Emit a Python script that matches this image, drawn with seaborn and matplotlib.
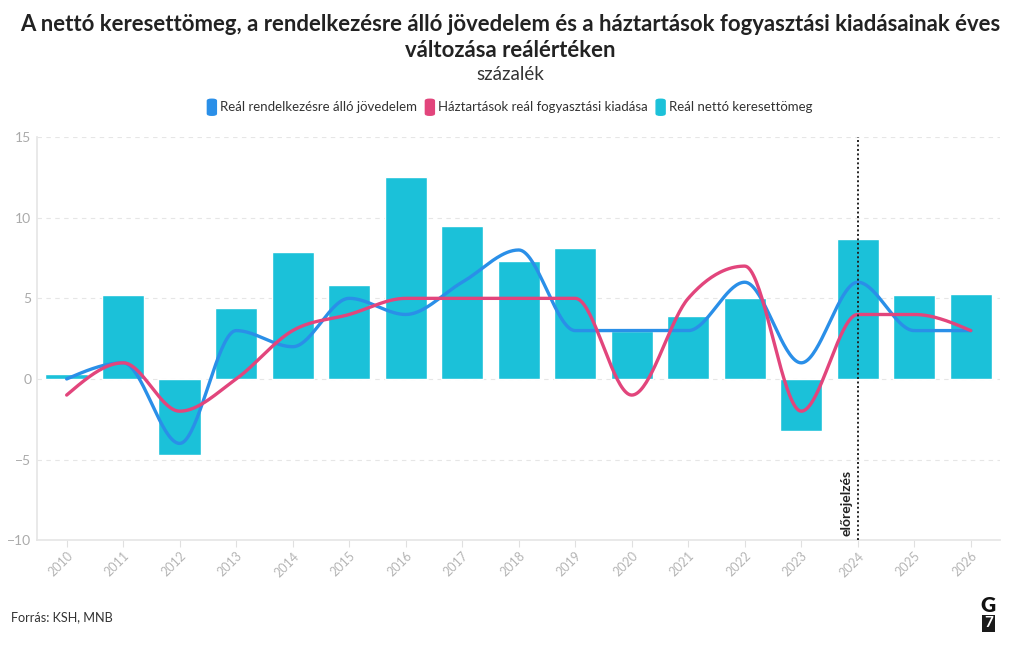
import numpy as np
import matplotlib
matplotlib.use("Agg")
import matplotlib.pyplot as plt
from matplotlib import font_manager
from matplotlib.patches import FancyBboxPatch
import seaborn as sns

# data (percent, yearly change)
years = [str(y) for y in range(2010, 2027)]
netto_kereset = [0.3, 5.2, -4.7, 4.4, 7.9, 5.8, 12.5, 9.5, 7.3, 8.1, 3.0, 3.9, 5.0, -3.2, 8.7, 5.2, 5.3]
jovedelem = [0, 1, -4, 3, 2, 5, 4, 6, 8, 3, 3, 3, 6, 1, 6, 3, 3]
fogyasztas = [-1, 1, -2, 0, 3, 4, 5, 5, 5, 5, -1, 5, 7, -2, 4, 4, 3]
forecast_year = "2024"

c_bar = "#1bc1d9"
c_blue = "#2a8fe8"
c_pink = "#e2457c"


def monotone_curve(y, steps=40):
    # smooth drawing through the points, like d3 curveMonotoneX
    y = np.asarray(y, dtype=float)
    x = np.arange(len(y), dtype=float)
    s = np.diff(y)
    t = np.zeros(len(y))
    for i in range(1, len(y) - 1):
        p = (s[i - 1] + s[i]) / 2
        t[i] = (np.sign(s[i - 1]) + np.sign(s[i])) * min(abs(s[i - 1]), abs(s[i]), 0.5 * abs(p))
    t[0] = (3 * s[0] - t[1]) / 2
    t[-1] = (3 * s[-1] - t[-2]) / 2
    xs, ys = [], []
    u = np.linspace(0, 1, steps)
    h00 = 2 * u**3 - 3 * u**2 + 1
    h10 = u**3 - 2 * u**2 + u
    h01 = -2 * u**3 + 3 * u**2
    h11 = u**3 - u**2
    for i in range(len(y) - 1):
        xs.append(x[i] + u)
        ys.append(h00 * y[i] + h10 * t[i] + h01 * y[i + 1] + h11 * t[i + 1])
    return np.concatenate(xs), np.concatenate(ys)


def fit_size(t, target_px, renderer):
    # shrink/grow a text so it spans target_px
    w = t.get_window_extent(renderer).width
    t.set_fontsize(t.get_fontsize() * target_px / w)


sns.set_theme(style="white")
plt.rcParams["font.family"] = ["Lato", "DejaVu Sans"]
installed = {f.name for f in font_manager.fontManager.ttflist}
title_font = "Liberation Sans Narrow" if "Liberation Sans Narrow" in installed else "Lato"

fig = plt.figure(figsize=(10.2, 6.5), dpi=100)
ax = fig.add_axes([0.036, 0.169, 0.944, 0.62])

sns.barplot(x=years, y=netto_kereset, color=c_bar, saturation=1, width=0.75, ax=ax, zorder=2)

xb, yb = monotone_curve(jovedelem)
ax.plot(xb, yb, color=c_blue, lw=2.4, zorder=3, solid_capstyle="round")
xp, yp = monotone_curve(fogyasztas)
ax.plot(xp, yp, color=c_pink, lw=2.4, zorder=4, solid_capstyle="round")

fx = years.index(forecast_year)
ax.axvline(fx, color="#222222", lw=1.4, ls=(0, (1, 1.3)), zorder=5)
ax.text(fx - 0.1, -9.75, "előrejelzés", rotation=90, ha="right", va="bottom",
        fontsize=10, fontweight="bold", color="#222222")

ax.set_ylim(-10, 15)
ax.set_xlim(-0.53, 16.51)
ax.set_yticks([-10, -5, 0, 5, 10, 15])
ax.yaxis.grid(True, color="#e6e6e6", ls=(0, (4, 4)), lw=0.8)
ax.set_axisbelow(True)
for side in ["top", "right"]:
    ax.spines[side].set_visible(False)
ax.spines["left"].set_color("#e6e6e6")
ax.spines["bottom"].set_color("#e6e6e6")
ax.tick_params(axis="y", colors="#aaaaaa", labelsize=10, length=0, pad=4)
ax.tick_params(axis="x", colors="#e0e0e0", labelcolor="#b5b5b5", labelsize=9,
               length=5, width=0.8, direction="out", bottom=True, pad=2)
plt.setp(ax.get_xticklabels(), rotation=45, ha="right", rotation_mode="anchor")
ax.set_xlabel("")
ax.set_ylabel("")

fig.canvas.draw()
renderer = fig.canvas.get_renderer()
W = fig.bbox.width
H = fig.bbox.height

t1 = fig.text(0.5, 0.962, "A nettó keresettömeg, a rendelkezésre álló jövedelem és a háztartások fogyasztási kiadásainak éves",
              ha="center", va="center", fontsize=19, fontweight="bold", color="#222222",
              family=[title_font, "DejaVu Sans"])
fit_size(t1, 978, renderer)
fig.text(0.5, 0.922, "változása reálértéken", ha="center", va="center",
         fontsize=t1.get_fontsize(), fontweight="bold", color="#222222", family=[title_font, "DejaVu Sans"])
fig.text(0.5, 0.886, "százalék", ha="center", va="center", fontsize=13.5, color="#333333")

# legend: coloured pills plus labels, laid out centred
labels = ["Reál rendelkezésre álló jövedelem", "Háztartások reál fogyasztási kiadása", "Reál nettó keresettömeg"]
colors = [c_blue, c_pink, c_bar]
pill_w, pill_h, gap, sep = 9, 16, 4, 8
texts = []
for lab in labels:
    t = fig.text(0, 0.835, lab, ha="left", va="center", fontsize=12, color="#333333")
    texts.append(t)
w_all = sum(t.get_window_extent(renderer).width for t in texts)
target = 602 - 3 * (pill_w + gap) - 2 * sep
for t in texts:
    t.set_fontsize(12 * target / w_all)
widths = [t.get_window_extent(renderer).width for t in texts]
total = sum(pill_w + gap + w for w in widths) + sep * (len(labels) - 1)
xpos = (W - total) / 2
for t, w, col in zip(texts, widths, colors):
    fig.patches.append(FancyBboxPatch((xpos / W, 0.835 - pill_h / 2 / H), pill_w / W, pill_h / H,
                                      boxstyle="round,pad=0,rounding_size=0.004",
                                      transform=fig.transFigure, color=col, mutation_aspect=H / W))
    t.set_x((xpos + pill_w + gap) / W)
    xpos += pill_w + gap + w + sep

src = fig.text(0.011, 0.051, "Forrás: KSH, MNB", ha="left", va="center", fontsize=12, color="#333333")
fit_size(src, 102, renderer)
fig.text(0.969, 0.069, "G", ha="center", va="center", fontsize=15, fontweight="heavy", color="#111111")
fig.text(0.969, 0.041, "7", ha="center", va="center", fontsize=11, fontweight="bold", color="white",
         bbox=dict(boxstyle="square,pad=0.12", fc="#1a1a1a", ec="none"))

fig.savefig("out.png", dpi=100)
